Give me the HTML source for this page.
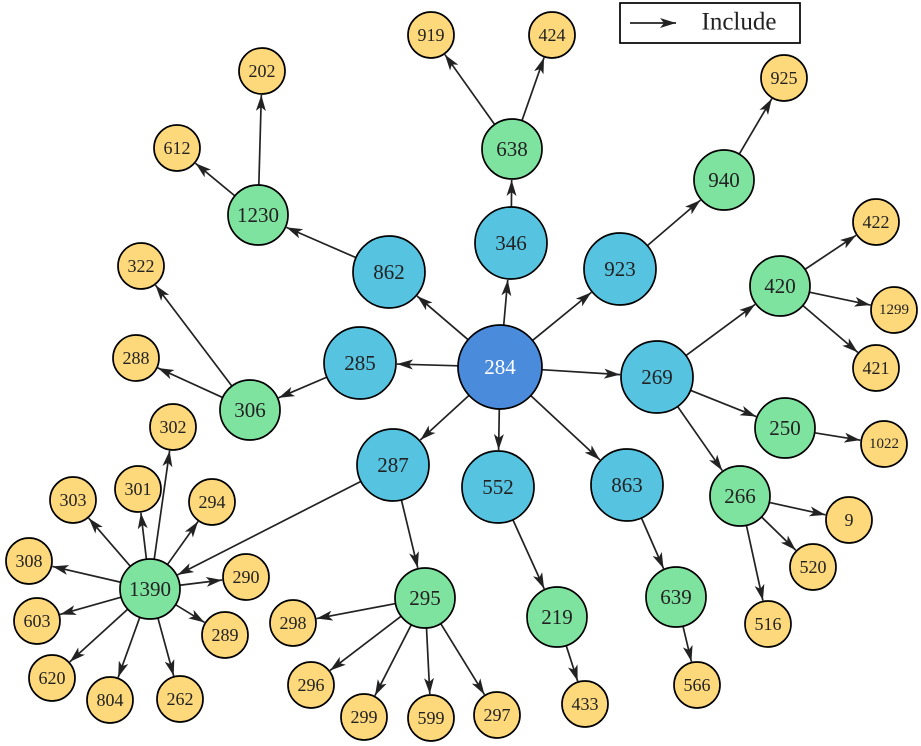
<!DOCTYPE html>
<html><head><meta charset="utf-8">
<style>
html,body{margin:0;padding:0;background:#fff;}
svg{display:block;}
text{font-family:"Liberation Serif",serif;text-anchor:middle;dominant-baseline:central;fill:#222;}
</style></head>
<body>
<svg id="g" width="921" height="746" viewBox="0 0 921 746" xmlns="http://www.w3.org/2000/svg">
<defs>
<marker id="a" viewBox="0 0 16 10" refX="16" refY="5" markerWidth="16" markerHeight="10" markerUnits="userSpaceOnUse" orient="auto">
<path d="M0,0 L16,5 L0,10 L4,5 Z" fill="#222"/>
</marker>
</defs>
<g id="edges" stroke="#222" stroke-width="1.7"></g>
<g id="nodes" stroke="#000" stroke-width="1.7">
<circle cx="500" cy="367" r="42" fill="#4a8bdc"/>
<circle cx="511" cy="243" r="36" fill="#56c3e0"/>
<circle cx="389" cy="272" r="36" fill="#56c3e0"/>
<circle cx="620" cy="269" r="36" fill="#56c3e0"/>
<circle cx="360" cy="363" r="36" fill="#56c3e0"/>
<circle cx="657" cy="377" r="36" fill="#56c3e0"/>
<circle cx="393" cy="465" r="36" fill="#56c3e0"/>
<circle cx="498" cy="487" r="36" fill="#56c3e0"/>
<circle cx="627" cy="485" r="36" fill="#56c3e0"/>
<circle cx="512" cy="149" r="30" fill="#7fe3a0"/>
<circle cx="724" cy="180" r="30" fill="#7fe3a0"/>
<circle cx="258" cy="215" r="30" fill="#7fe3a0"/>
<circle cx="780" cy="286" r="30" fill="#7fe3a0"/>
<circle cx="250" cy="410" r="30" fill="#7fe3a0"/>
<circle cx="785" cy="428" r="30" fill="#7fe3a0"/>
<circle cx="740" cy="496" r="30" fill="#7fe3a0"/>
<circle cx="150" cy="589" r="30" fill="#7fe3a0"/>
<circle cx="425" cy="598" r="30" fill="#7fe3a0"/>
<circle cx="557" cy="617" r="30" fill="#7fe3a0"/>
<circle cx="676" cy="597" r="30" fill="#7fe3a0"/>
<g fill="#fed97c">
<circle cx="431" cy="35" r="23"/><circle cx="552" cy="35" r="23"/><circle cx="784" cy="78" r="23"/>
<circle cx="262" cy="71" r="23"/><circle cx="177" cy="148" r="23"/><circle cx="876" cy="222" r="23"/>
<circle cx="894" cy="310" r="23"/><circle cx="876" cy="368" r="23"/><circle cx="141" cy="266" r="23"/>
<circle cx="136" cy="358" r="23"/><circle cx="884" cy="444" r="23"/><circle cx="849" cy="520" r="23"/>
<circle cx="813" cy="567" r="23"/><circle cx="768" cy="624" r="23"/><circle cx="173" cy="427" r="23"/>
<circle cx="138" cy="489" r="23"/><circle cx="212" cy="502" r="23"/><circle cx="73" cy="500" r="23"/>
<circle cx="29" cy="561" r="23"/><circle cx="246" cy="577" r="23"/><circle cx="37" cy="621" r="23"/>
<circle cx="225" cy="635" r="23"/><circle cx="52" cy="678" r="23"/><circle cx="110" cy="700" r="23"/>
<circle cx="180" cy="699" r="23"/><circle cx="293" cy="623" r="23"/><circle cx="311" cy="685" r="23"/>
<circle cx="364" cy="717" r="23"/><circle cx="431" cy="718" r="23"/><circle cx="497" cy="715" r="23"/>
<circle cx="585" cy="704" r="23"/><circle cx="697" cy="685" r="23"/>
</g>
</g>
<g font-size="21">
<text x="500" y="367" style="fill:#fff">284</text>
<text x="511" y="243">346</text><text x="389" y="272">862</text><text x="620" y="269">923</text>
<text x="360" y="363">285</text><text x="657" y="377">269</text><text x="393" y="465">287</text>
<text x="498" y="487">552</text><text x="627" y="485">863</text>
<text x="512" y="149">638</text><text x="724" y="180">940</text><text x="258" y="215">1230</text>
<text x="780" y="286">420</text><text x="250" y="410">306</text><text x="785" y="428">250</text>
<text x="740" y="496">266</text><text x="150" y="589">1390</text><text x="425" y="598">295</text>
<text x="557" y="617">219</text><text x="676" y="597">639</text>
</g>
<g font-size="18">
<text x="431" y="35">919</text><text x="552" y="35">424</text><text x="784" y="78">925</text>
<text x="262" y="71">202</text><text x="177" y="148">612</text><text x="876" y="222">422</text>
<text x="894" y="310" font-size="15">1299</text><text x="876" y="368">421</text><text x="141" y="266">322</text>
<text x="136" y="358">288</text><text x="884" y="444" font-size="15">1022</text><text x="849" y="520">9</text>
<text x="813" y="567">520</text><text x="768" y="624">516</text><text x="173" y="427">302</text>
<text x="138" y="489">301</text><text x="212" y="502">294</text><text x="73" y="500">303</text>
<text x="29" y="561">308</text><text x="246" y="577">290</text><text x="37" y="621">603</text>
<text x="225" y="635">289</text><text x="52" y="678">620</text><text x="110" y="700">804</text>
<text x="180" y="699">262</text><text x="293" y="623">298</text><text x="311" y="685">296</text>
<text x="364" y="717">299</text><text x="431" y="718">599</text><text x="497" y="715">297</text>
<text x="585" y="704">433</text><text x="697" y="685">566</text>
</g>
<rect x="620" y="3" width="180" height="40" fill="#fff" stroke="#000" stroke-width="1.7"/>
<line x1="630" y1="23" x2="676" y2="23" stroke="#222" stroke-width="1.7" marker-end="url(#a)"/>
<text x="739" y="22" font-size="25">Include</text>
</svg>
<script>
var pts={};
document.querySelectorAll('#nodes circle').forEach(function(c){var x=+c.getAttribute('cx'),y=+c.getAttribute('cy'),r=+c.getAttribute('r');pts[x+','+y]=[x,y,r];});
var L={};document.querySelectorAll('svg text').forEach(function(t){L[t.textContent]=[+t.getAttribute('x'),+t.getAttribute('y')];});
function n(l){var p=L[l];return pts[p[0]+','+p[1]];}
var E="284 346,284 862,284 923,284 285,284 269,284 287,284 552,284 863,862 1230,1230 202,1230 612,346 638,638 919,638 424,923 940,940 925,285 306,306 322,306 288,269 420,269 250,269 266,420 422,420 1299,420 421,250 1022,266 9,266 520,266 516,287 1390,287 295,1390 302,1390 301,1390 294,1390 303,1390 308,1390 290,1390 603,1390 289,1390 620,1390 804,1390 262,295 298,295 296,295 299,295 599,295 297,552 219,219 433,863 639,639 566".split(',');
var g=document.getElementById('edges');
E.forEach(function(e){var s=e.split(' '),a=n(s[0]),b=n(s[1]);var dx=b[0]-a[0],dy=b[1]-a[1],d=Math.hypot(dx,dy),ux=dx/d,uy=dy/d;
var l=document.createElementNS('http://www.w3.org/2000/svg','line');
l.setAttribute('x1',a[0]+ux*a[2]);l.setAttribute('y1',a[1]+uy*a[2]);l.setAttribute('x2',b[0]-ux*(b[2]+1));l.setAttribute('y2',b[1]-uy*(b[2]+1));
l.setAttribute('marker-end','url(#a)');g.appendChild(l);});
</script>
</body></html>
